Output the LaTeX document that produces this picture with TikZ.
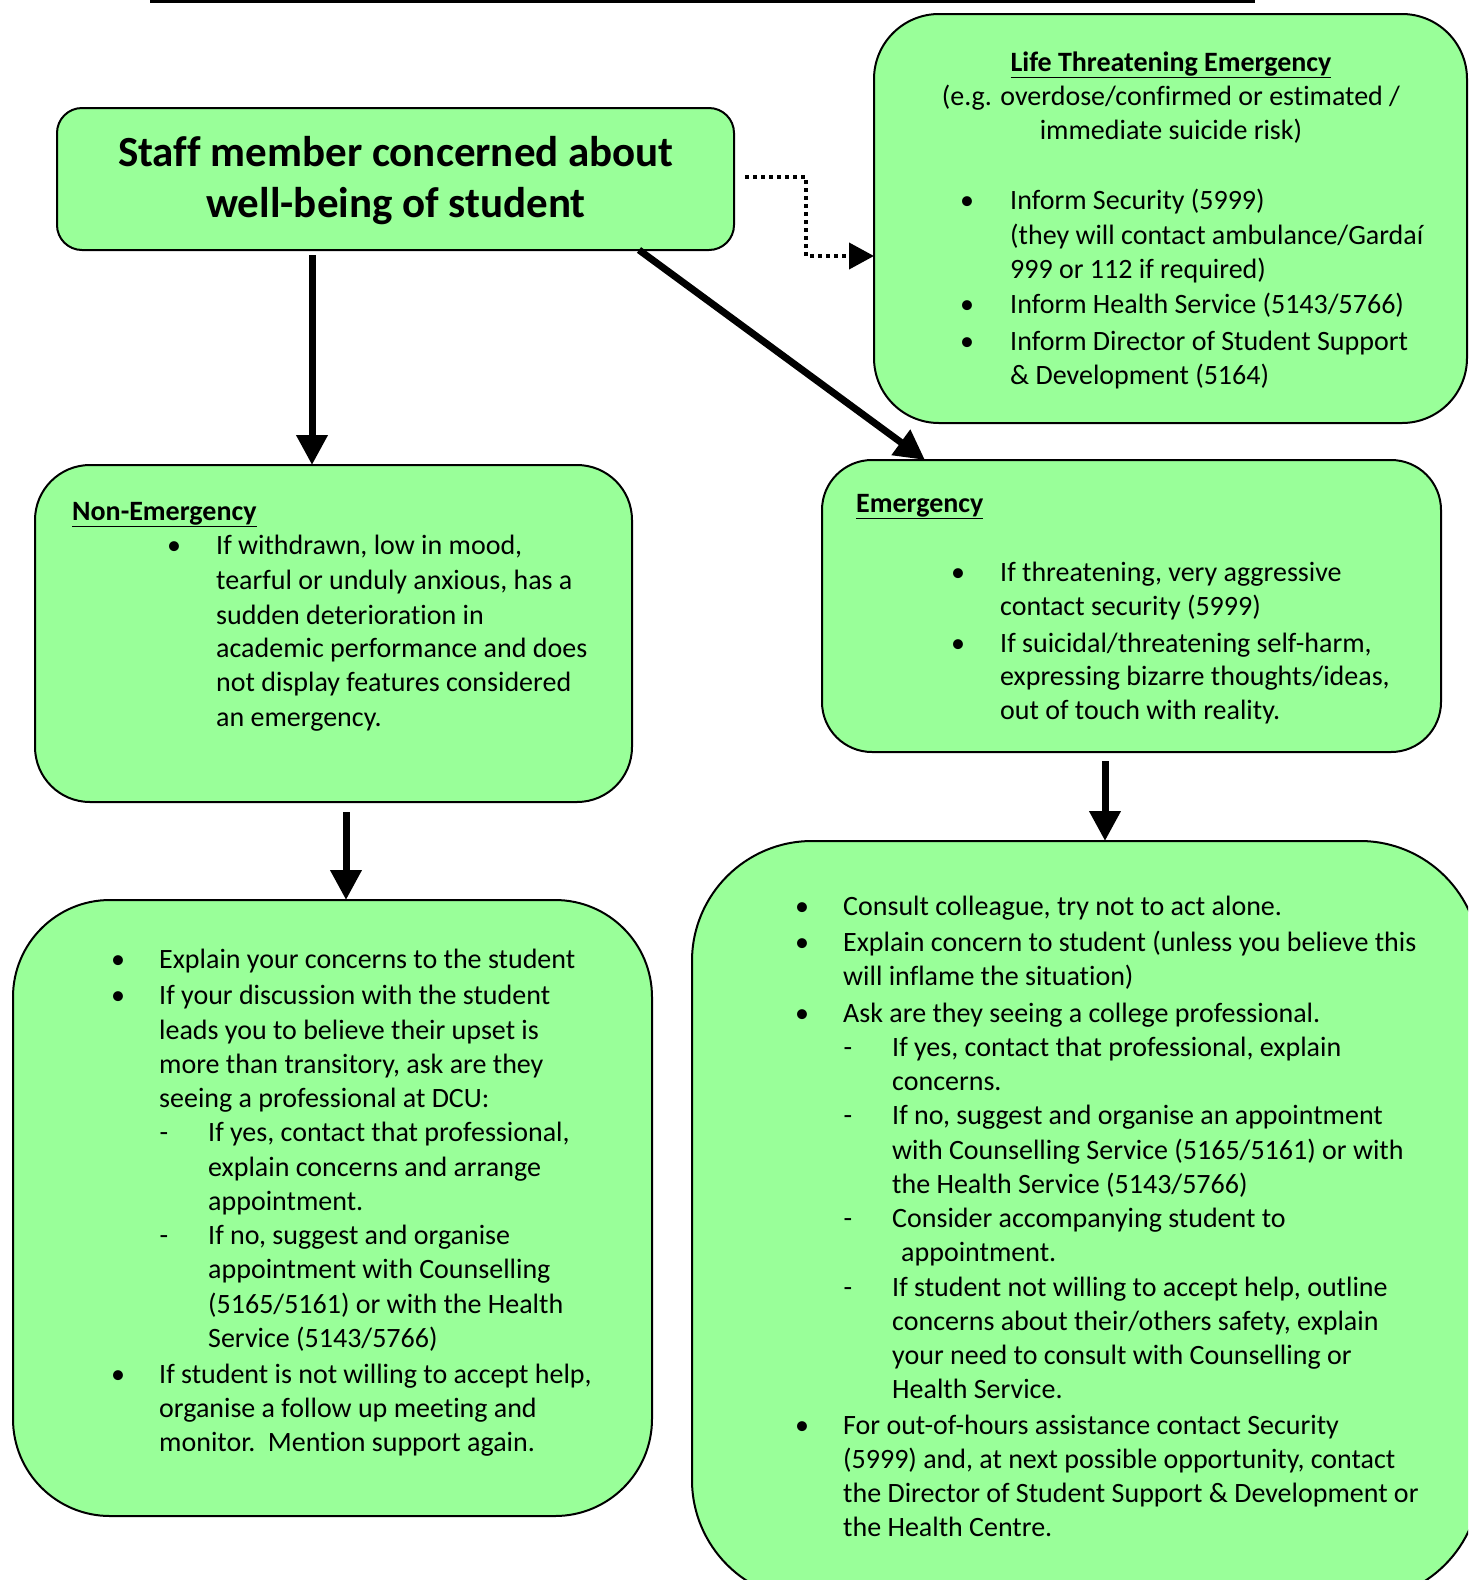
\documentclass[tikz,border=0pt]{standalone}
\usepackage{fontspec}
\setmainfont{Carlito}[Ligatures=NoCommon]
\usetikzlibrary{arrows.meta}
\definecolor{boxgreen}{RGB}{153,255,153}
\tikzset{
  box/.style={draw=black, line width=2pt, fill=boxgreen, inner sep=0pt, outer sep=0pt},
  txt/.style={anchor=base west, inner sep=0pt, font=\fontsize{28}{34}\selectfont},
  ctxt/.style={anchor=base, inner sep=0pt, font=\fontsize{28}{34}\selectfont},
  bul/.style={anchor=base, inner sep=0pt, font=\fontsize{28}{34}\selectfont},
  ttl/.style={anchor=base, inner sep=0pt, font=\fontsize{43}{51}\selectfont\bfseries},
  bigarrow/.style={line width=7pt, -{Triangle[length=30pt,width=30pt]}},
  dotarrow/.style={line width=4pt, dash pattern=on 4pt off 4pt, -{Triangle[length=25pt,width=26pt]}},
}
\begin{document}
\begin{tikzpicture}[x=1pt,y=-1pt]
\useasboundingbox (0,0) rectangle (1468,1580);
\clip (0,0) rectangle (1468,1580);
% top rule
\fill[black] (150,0) rectangle (1255,3);
% boxes
\node[box, minimum width=677pt, minimum height=142pt, rounded corners=25pt] (staff) at (395.5,179) {};
\node[box, minimum width=593pt, minimum height=409pt, rounded corners=65pt] (lte) at (1170.5,218.5) {};
\node[box, minimum width=597pt, minimum height=337pt, rounded corners=55pt] (nonem) at (333.5,633.5) {};
\node[box, minimum width=619pt, minimum height=292pt, rounded corners=50pt] (emerg) at (1131.5,606) {};
\node[box, minimum width=639pt, minimum height=616pt, rounded corners=97pt] (bl) at (332.5,1208) {};
\node[box, minimum width=788pt, minimum height=759pt, rounded corners=120pt] (br) at (1086,1220.5) {};
% connectors
\draw[bigarrow] (staff.south -| 312,0) ++(0,5) -- (nonem.north -| 312,0);
\draw[bigarrow] (staff.south -| 639,0) -- (emerg.north -| 925,0);
\draw[bigarrow] (nonem.south -| 346,0) ++(0,10) -- (bl.north -| 346,0);
\draw[bigarrow] (emerg.south -| 1105,0) ++(0,9) -- (br.north -| 1105,0);
\coordinate (dA) at (745,177);
\coordinate (dB) at (806,177);
\coordinate (dC) at (806,256);
\draw[dotarrow] (dA) -- (dB) -- (dC) -- (lte.west |- dC);
% staff text
\node[ttl] (st1) at (396,166) {Staff member concerned about};
\node[ttl] (st2) at (396,217) {well-being of student};
% LTE text
\node[ctxt] (lt1) at (1171,71) {\textbf{\underline{Life Threatening Emergency}}};
\node[ctxt] (lt2) at (1171,105) {(e.g. overdose/confirmed or estimated /};
\node[ctxt] (lt3) at (1171,139) {immediate suicide risk)};
\foreach \y/\t [count=\i] in {209/{Inform Security (5999)},244/{(they will contact ambulance/Gardaí},278/{999 or 112 if required)},313/{Inform Health Service (5143/5766)},350/{Inform Director of Student Support},384/{\& Development (5164)}}
  {\node[txt] (ltl\i) at (1010,\y) {\t};}
\foreach \y [count=\i] in {209,313,350} {\node[bul] (ltb\i) at (967,\y) {•};}
% Non-emergency text
\node[txt] (ne0) at (72,520) {\textbf{\underline{Non-Emergency}}};
\foreach \y/\t [count=\i] in {554/{If withdrawn, low in mood,},589/{tearful or unduly anxious, has a},624/{sudden deterioration in},657/{academic performance and does},691/{not display features considered},726/{an emergency.}}
  {\node[txt] (nel\i) at (216,\y) {\t};}
\node[bul] (neb1) at (174,554) {•};
% Emergency text
\node[txt] (em0) at (856,512) {\textbf{\underline{Emergency}}};
\foreach \y/\t [count=\i] in {581/{If threatening, very aggressive},615/{contact security (5999)},652/{If suicidal/threatening self-harm,},685/{expressing bizarre thoughts/ideas,},719/{out of touch with reality.}}
  {\node[txt] (eml\i) at (1000,\y) {\t};}
\foreach \y [count=\i] in {581,652} {\node[bul] (emb\i) at (958,\y) {•};}
% bottom-left text
\foreach \y/\t [count=\i] in {968/{Explain your concerns to the student},1004/{If your discussion with the student},1039/{leads you to believe their upset is},1073/{more than transitory, ask are they},1107/{seeing a professional at DCU:},1383/{If student is not willing to accept help,},1417/{organise a follow up meeting and},1451/{monitor.\ \ Mention support again.}}
  {\node[txt] (bll\i) at (159,\y) {\t};}
\foreach \y/\t [count=\i] in {1141/{If yes, contact that professional,},1176/{explain concerns and arrange},1210/{appointment.},1244/{If no, suggest and organise},1278/{appointment with Counselling},1313/{(5165/5161) or with the Health},1347/{Service (5143/5766)}}
  {\node[txt] (bls\i) at (208,\y) {\t};}
\foreach \y [count=\i] in {968,1004,1383} {\node[bul] (blb\i) at (118,\y) {•};}
\foreach \y [count=\i] in {1141,1244} {\node[bul] (bld\i) at (164,\y) {-};}
% bottom-right text
\foreach \y/\t [count=\i] in {915/{Consult colleague, try not to act alone.},951/{Explain concern to student (unless you believe this},985/{will inflame the situation)},1022/{Ask are they seeing a college professional.},1434/{For out-of-hours assistance contact Security},1468/{(5999) and, at next possible opportunity, contact},1502/{the Director of Student Support \& Development or},1536/{the Health Centre.}}
  {\node[txt] (brl\i) at (843,\y) {\t};}
\foreach \y/\t [count=\i] in {1056/{If yes, contact that professional, explain},1090/{concerns.},1124/{If no, suggest and organise an appointment},1159/{with Counselling Service (5165/5161) or with},1193/{the Health Service (5143/5766)},1227/{Consider accompanying student to},1296/{If student not willing to accept help, outline},1330/{concerns about their/others safety, explain},1364/{your need to consult with Counselling or},1398/{Health Service.}}
  {\node[txt] (brs\i) at (892,\y) {\t};}
\node[txt] (brs0) at (901,1261) {appointment.};
\foreach \y [count=\i] in {915,951,1022,1434} {\node[bul] (brb\i) at (802,\y) {•};}
\foreach \y [count=\i] in {1056,1124,1227,1296} {\node[bul] (brd\i) at (848,\y) {-};}
\end{tikzpicture}
\end{document}
